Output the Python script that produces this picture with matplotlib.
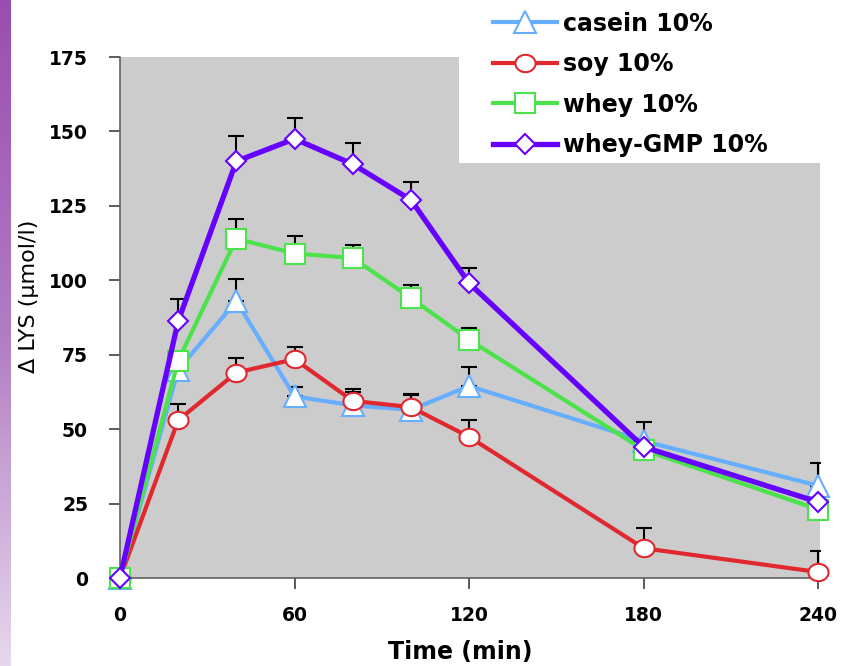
import numpy as np
import matplotlib
matplotlib.use("Agg")
import matplotlib.pyplot as plt
from matplotlib.path import Path
from matplotlib.patches import Rectangle
from matplotlib.colors import LinearSegmentedColormap

# Sampling times (min)
time_min = [0, 20, 40, 60, 80, 100, 120, 180, 240]

# Plasma lysine increment (umol/l) per protein drink
casein = [0, 70, 93, 61, 58, 56.5, 64.5, 46, 31]
soy = [0, 53, 69, 73.5, 59.5, 57.4, 47.4, 10, 2]
whey = [0, 73, 114, 109, 107.5, 94, 80, 43, 23]
whey_gmp = [0, 86.3, 140, 147.5, 139, 127, 99, 44, 25.5]

# Upper error (SEM)
casein_err = [0, 0, 7.5, 3, 4.5, 5, 6.5, 6.5, 7.5]
soy_err = [0, 5.5, 5, 4, 4, 4.5, 5.6, 6.8, 7]
whey_err = [0, 0, 6.6, 6, 4.5, 4.5, 4, 0, 0]
whey_gmp_err = [0, 7.5, 8.5, 7, 7, 6, 5, 0, 0]

labels = ["casein 10%", "soy 10%", "whey 10%", "whey-GMP 10%"]
x_ticks = [0, 60, 120, 180, 240]
y_ticks = [0, 25, 50, 75, 100, 125, 150, 175]

# Slightly flattened circle marker
t = np.linspace(0, 2 * np.pi, 60)
ellipse = Path(np.column_stack([np.cos(t), 0.86 * np.sin(t)]), closed=True)

styles = [
    dict(color="#66AEFF", marker="^", ms=15.5, lw=3.0),
    dict(color="#E0282E", marker=ellipse, ms=14.5, lw=3.0),
    dict(color="#4CE24C", marker="s", ms=14.5, lw=3.0),
    dict(color="#6600FF", marker="D", ms=10.5, lw=3.8),
]

fig = plt.figure(figsize=(8.54, 6.66), dpi=100)

# Purple slide strip along the left edge
strip = fig.add_axes([0, 0, 0.012, 1])
grad = np.linspace(0, 1, 256)[:, None]
cmap = LinearSegmentedColormap.from_list("strip", ["#9A4DB0", "#B27CC4", "#E6D8EC"])
strip.imshow(grad, aspect="auto", cmap=cmap, extent=[0, 1, 0, 1], origin="upper")
strip.set_axis_off()

ax = fig.add_axes([0.1405, 0.1321, 0.8195, 0.7823])
ax.set_facecolor("#CCCCCC")

series = [casein, soy, whey, whey_gmp]
errs = [casein_err, soy_err, whey_err, whey_gmp_err]
handles = []
for i, (y, e, st) in enumerate(zip(series, errs, styles)):
    e = np.array(e, dtype=float)
    xs = np.array(time_min)
    m = e > 0
    ax.errorbar(xs[m], np.array(y)[m], yerr=[np.zeros(m.sum()), e[m]],
                fmt="none", ecolor="black", elinewidth=1.5, capsize=6,
                capthick=1.5, zorder=2 + 2 * i)
    ln, = ax.plot(time_min, y, color=st["color"], lw=st["lw"], marker=st["marker"],
                  ms=st["ms"], mfc="white", mec=st["color"], mew=1.5,
                  zorder=3 + 2 * i, clip_on=False)
    handles.append(ln)

ax.set_xlim(0, 240.5)
ax.set_ylim(0, 175)
ax.set_xticks(x_ticks)
ax.set_yticks(y_ticks)
ax.tick_params(axis="both", direction="out", length=8, width=1.2, color="#404040",
               labelsize=13.5)
for lab in ax.get_xticklabels() + ax.get_yticklabels():
    lab.set_fontweight("bold")
ax.tick_params(axis="x", pad=12)
ax.tick_params(axis="y", pad=15)
for s in ["top", "right"]:
    ax.spines[s].set_visible(False)
for s in ["left", "bottom"]:
    ax.spines[s].set_color("#606060")
    ax.spines[s].set_linewidth(1.2)

ax.set_xlabel("Time (min)", fontsize=17, fontweight="bold")
ax.xaxis.set_label_coords(0.486, -0.119)
ax.set_ylabel("\u0394 LYS (\u00b5mol/l)", fontsize=16)
ax.yaxis.set_label_coords(-0.1157, 0.54)

# White block behind the legend
fig.patches.append(Rectangle((0.5375, 0.7553), 0.4625, 0.2447, transform=fig.transFigure,
                             facecolor="white", edgecolor="none", zorder=3))

leg = fig.legend(handles, labels, loc="upper left", bbox_to_anchor=(0.5773, 0.9825),
                 frameon=False, prop={"weight": "bold", "size": 17},
                 handlelength=2.7, handletextpad=0.25, labelspacing=0.70,
                 borderpad=0, borderaxespad=0)
leg.set_zorder(5)

fig.savefig("out.png", dpi=100)
